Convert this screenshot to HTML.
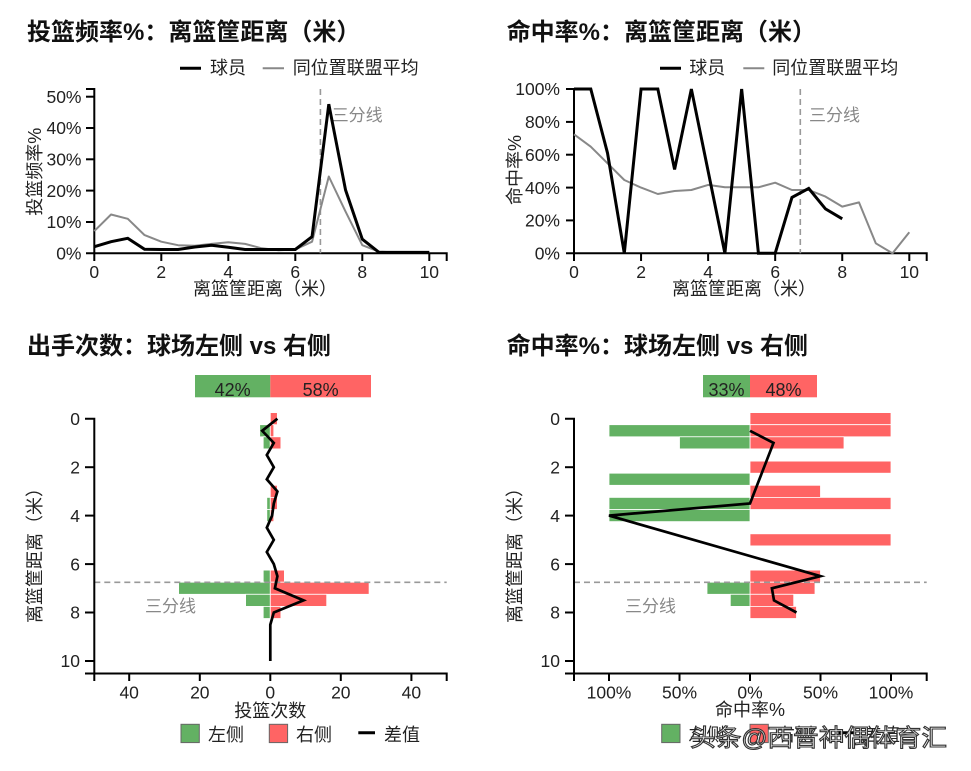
<!DOCTYPE html>
<html><head><meta charset="utf-8"><style>
html,body{margin:0;padding:0;background:#fff;}
svg{display:block;font-family:"Liberation Sans","Noto Sans CJK SC",sans-serif;}
.t{font-size:24px;font-weight:bold;fill:#111;}
.tk{font-size:17.5px;fill:#222;}
.lb{font-size:18px;fill:#222;}
.g3{font-size:17px;fill:#888;}
</style></head><body>
<svg width="971" height="771" viewBox="0 0 971 771" xmlns="http://www.w3.org/2000/svg">
<rect width="971" height="771" fill="#fff"/>

<!-- ============ TOP LEFT ============ -->
<text class="t" x="27" y="40">投篮频率%：离篮筐距离（米）</text>
<line x1="180" y1="68.3" x2="201" y2="68.3" stroke="#000" stroke-width="3"/>
<text class="lb" x="210" y="74">球员</text>
<line x1="262.7" y1="68.3" x2="284" y2="68.3" stroke="#888" stroke-width="2"/>
<text class="lb" x="292.7" y="74">同位置联盟平均</text>

<g stroke="#000" stroke-width="2" fill="none">
<path d="M86,89 H94.3 V253.3 H86"/>
<path d="M94.3,261 V253.3 H446.7 V261"/>
<line x1="86" y1="222" x2="94.3" y2="222"/>
<line x1="86" y1="190.6" x2="94.3" y2="190.6"/>
<line x1="86" y1="159.3" x2="94.3" y2="159.3"/>
<line x1="86" y1="128" x2="94.3" y2="128"/>
<line x1="86" y1="96.7" x2="94.3" y2="96.7"/>
<line x1="161.3" y1="253.3" x2="161.3" y2="261"/>
<line x1="228.3" y1="253.3" x2="228.3" y2="261"/>
<line x1="295.3" y1="253.3" x2="295.3" y2="261"/>
<line x1="362.3" y1="253.3" x2="362.3" y2="261"/>
<line x1="429.3" y1="253.3" x2="429.3" y2="261"/>
</g>
<g class="tk" text-anchor="end">
<text x="81.5" y="259.5">0%</text>
<text x="81.5" y="228.2">10%</text>
<text x="81.5" y="196.8">20%</text>
<text x="81.5" y="165.5">30%</text>
<text x="81.5" y="134.2">40%</text>
<text x="81.5" y="102.9">50%</text>
</g>
<g class="tk" text-anchor="middle">
<text x="94.3" y="278">0</text>
<text x="161.3" y="278">2</text>
<text x="228.3" y="278">4</text>
<text x="295.3" y="278">6</text>
<text x="362.3" y="278">8</text>
<text x="429.3" y="278">10</text>
</g>
<text class="lb" x="265" y="295" text-anchor="middle">离篮筐距离（米）</text>
<text class="lb" transform="translate(41,171.7) rotate(-90)" text-anchor="middle">投篮频率%</text>
<line x1="320.4" y1="89" x2="320.4" y2="253.3" stroke="#999" stroke-width="1.6" stroke-dasharray="6,4"/>
<text class="g3" x="331.7" y="121">三分线</text>
<polyline fill="none" stroke="#888" stroke-width="2" stroke-linejoin="round" points="94.3,231.1 111.05,214.5 127.8,218.8 144.55,235.1 161.3,241.7 178.05,245.2 194.8,245.8 211.55,243.9 228.3,242.3 245.05,243.9 261.8,248.3 278.55,250.2 295.3,249.5 312.05,241.7 328.8,176.5 345.55,211.6 362.3,245.2 379.05,251.7 395.8,252.4 412.55,252.4 429.3,252.4"/>
<polyline fill="none" stroke="#000" stroke-width="3" stroke-linejoin="miter" points="94.3,246.7 111.05,241.7 127.8,238.3 144.55,249.2 161.3,249.5 178.05,249.5 194.8,247 211.55,245.2 228.3,247.3 245.05,249.5 261.8,249.5 278.55,249.5 295.3,249.5 312.05,236.7 328.8,104.2 345.55,190 362.3,239.2 379.05,252.4 395.8,252.4 412.55,252.4 429.3,252.4"/>

<!-- ============ TOP RIGHT ============ -->
<text class="t" x="506.7" y="40">命中率%：离篮筐距离（米）</text>
<line x1="660" y1="68.3" x2="681" y2="68.3" stroke="#000" stroke-width="3"/>
<text class="lb" x="689.3" y="74">球员</text>
<line x1="743.3" y1="68.3" x2="764.3" y2="68.3" stroke="#888" stroke-width="2"/>
<text class="lb" x="772.3" y="74">同位置联盟平均</text>

<g stroke="#000" stroke-width="2" fill="none">
<path d="M566,89 H574 V253.3 H566"/>
<path d="M574,261 V253.3 H926.7 V261"/>
<line x1="566" y1="220.4" x2="574" y2="220.4"/>
<line x1="566" y1="187.6" x2="574" y2="187.6"/>
<line x1="566" y1="154.7" x2="574" y2="154.7"/>
<line x1="566" y1="121.9" x2="574" y2="121.9"/>
<line x1="641.06" y1="253.3" x2="641.06" y2="261"/>
<line x1="708.12" y1="253.3" x2="708.12" y2="261"/>
<line x1="775.18" y1="253.3" x2="775.18" y2="261"/>
<line x1="842.24" y1="253.3" x2="842.24" y2="261"/>
<line x1="909.3" y1="253.3" x2="909.3" y2="261"/>
</g>
<g class="tk" text-anchor="end">
<text x="560" y="259.5">0%</text>
<text x="560" y="226.6">20%</text>
<text x="560" y="193.8">40%</text>
<text x="560" y="160.9">60%</text>
<text x="560" y="128.1">80%</text>
<text x="560" y="95.2">100%</text>
</g>
<g class="tk" text-anchor="middle">
<text x="574" y="278">0</text>
<text x="641.06" y="278">2</text>
<text x="708.12" y="278">4</text>
<text x="775.18" y="278">6</text>
<text x="842.24" y="278">8</text>
<text x="909.3" y="278">10</text>
</g>
<text class="lb" x="744" y="295" text-anchor="middle">离篮筐距离（米）</text>
<text class="lb" transform="translate(521,170) rotate(-90)" text-anchor="middle">命中率%</text>
<line x1="800.3" y1="89" x2="800.3" y2="253.3" stroke="#999" stroke-width="1.6" stroke-dasharray="6,4"/>
<text class="g3" x="809" y="121">三分线</text>
<polyline fill="none" stroke="#888" stroke-width="2" stroke-linejoin="round" points="574,134.3 590.77,146.7 607.53,163.3 624.3,180 641.06,187.6 657.83,194 674.59,191 691.36,190 708.12,184.9 724.89,187.3 741.65,187.3 758.42,187.3 775.18,182.7 791.95,190 808.71,190 825.48,196.6 842.24,206.6 859,202.4 875.77,243.3 892.54,253.3 909.3,232.3"/>
<polyline fill="none" stroke="#000" stroke-width="3" stroke-linejoin="miter" stroke-miterlimit="3" points="574,89 590.77,89 607.53,153.1 624.3,253.3 641.06,89 657.83,89 674.59,169.5 691.36,89 724.89,253.3 741.65,89 758.42,253.3 775.18,253.3 791.95,197.4 808.71,188.4 825.48,208.9 842.24,218.8"/>

<!-- ============ BOTTOM LEFT ============ -->
<text class="t" x="27" y="354">出手次数：球场左侧 vs 右侧</text>
<rect x="195" y="375" width="75.3" height="22.3" fill="#63b163"/>
<rect x="270.3" y="375" width="100.7" height="22.3" fill="#ff6464"/>
<text class="tk" x="232.6" y="396" text-anchor="middle" style="font-size:18px;fill:#222">42%</text>
<text class="tk" x="320.6" y="396" text-anchor="middle" style="font-size:18px;fill:#222">58%</text>

<g stroke="#fff" stroke-width="0.8">
<rect x="270.3" y="412.6" width="7.05" height="12.11" fill="#ff6464"/>
<rect x="259.7" y="424.7" width="10.6" height="12.11" fill="#63b163"/>
<rect x="270.3" y="424.7" width="3.5" height="12.11" fill="#ff6464"/>
<rect x="263.2" y="436.8" width="7.05" height="12.11" fill="#63b163"/>
<rect x="270.3" y="436.8" width="10.6" height="12.11" fill="#ff6464"/>
<rect x="270.3" y="485.3" width="7.05" height="12.11" fill="#ff6464"/>
<rect x="266.8" y="497.4" width="3.5" height="12.11" fill="#63b163"/>
<rect x="270.3" y="497.4" width="7.05" height="12.11" fill="#ff6464"/>
<rect x="266.8" y="509.5" width="3.5" height="12.11" fill="#63b163"/>
<rect x="270.3" y="509.5" width="3.5" height="12.11" fill="#ff6464"/>
<rect x="263.2" y="570.1" width="7.05" height="12.11" fill="#63b163"/>
<rect x="270.3" y="570.1" width="14.1" height="12.11" fill="#ff6464"/>
<rect x="178.6" y="582.2" width="91.7" height="12.11" fill="#63b163"/>
<rect x="270.3" y="582.2" width="98.8" height="12.11" fill="#ff6464"/>
<rect x="245.6" y="594.3" width="24.7" height="12.11" fill="#63b163"/>
<rect x="270.3" y="594.3" width="56.4" height="12.11" fill="#ff6464"/>
<rect x="263.2" y="606.4" width="7.05" height="12.11" fill="#63b163"/>
<rect x="270.3" y="606.4" width="10.6" height="12.11" fill="#ff6464"/>
</g>
<line x1="94.3" y1="582.3" x2="446.7" y2="582.3" stroke="#999" stroke-width="1.6" stroke-dasharray="6,4"/>
<text class="g3" x="145" y="612">三分线</text>
<polyline fill="none" stroke="#000" stroke-width="2.7" points="277.4,418.7 262.2,430.8 273.8,442.9 266.8,455 273.8,467.2 266.8,479.3 277.4,491.4 273.8,503.5 272.1,515.6 266.8,527.7 273.8,539.9 266.8,552 273.8,564.1 277.4,576.2 274.9,588.3 303.5,600.4 273.8,612.5 270.3,624.7 270.3,636.8 270.3,648.9 270.3,661"/>

<g stroke="#000" stroke-width="2" fill="none">
<path d="M85,418.7 H94.3 V673.5 H85"/>
<path d="M94.3,681 V673.5 H446.7 V681"/>
<line x1="85" y1="467.2" x2="94.3" y2="467.2"/>
<line x1="85" y1="515.6" x2="94.3" y2="515.6"/>
<line x1="85" y1="564.1" x2="94.3" y2="564.1"/>
<line x1="85" y1="612.5" x2="94.3" y2="612.5"/>
<line x1="85" y1="661" x2="94.3" y2="661"/>
<line x1="129.2" y1="673.5" x2="129.2" y2="681"/>
<line x1="199.8" y1="673.5" x2="199.8" y2="681"/>
<line x1="270.3" y1="673.5" x2="270.3" y2="681"/>
<line x1="340.8" y1="673.5" x2="340.8" y2="681"/>
<line x1="411.4" y1="673.5" x2="411.4" y2="681"/>
</g>
<g class="tk" text-anchor="end">
<text x="80" y="425">0</text>
<text x="80" y="473.4">2</text>
<text x="80" y="521.8">4</text>
<text x="80" y="570.3">6</text>
<text x="80" y="618.7">8</text>
<text x="80" y="667.2">10</text>
</g>
<g class="tk" text-anchor="middle">
<text x="129.2" y="698.5">40</text>
<text x="199.8" y="698.5">20</text>
<text x="270.3" y="698.5">0</text>
<text x="340.8" y="698.5">20</text>
<text x="411.4" y="698.5">40</text>
</g>
<text class="lb" x="270.3" y="717" text-anchor="middle">投篮次数</text>
<text class="lb" transform="translate(41,551) rotate(-90)" text-anchor="middle">离篮筐距离（米）</text>

<rect x="181" y="724.3" width="18.3" height="18.3" fill="#63b163" stroke="#666" stroke-width="1"/>
<text class="lb" x="208" y="741">左侧</text>
<rect x="269.3" y="724.3" width="18.3" height="18.3" fill="#ff6464" stroke="#666" stroke-width="1"/>
<text class="lb" x="296" y="741">右侧</text>
<line x1="358.3" y1="732.7" x2="375" y2="732.7" stroke="#000" stroke-width="3"/>
<text class="lb" x="384" y="741">差值</text>

<!-- ============ BOTTOM RIGHT ============ -->
<text class="t" x="506.7" y="354">命中率%：球场左侧 vs 右侧</text>
<rect x="703" y="375" width="47" height="22.3" fill="#63b163"/>
<rect x="750" y="375" width="67" height="22.3" fill="#ff6464"/>
<text class="tk" x="726.5" y="396" text-anchor="middle" style="font-size:18px;fill:#222">33%</text>
<text class="tk" x="783.5" y="396" text-anchor="middle" style="font-size:18px;fill:#222">48%</text>

<g stroke="#fff" stroke-width="0.8">
<rect x="750" y="412.6" width="141" height="12.11" fill="#ff6464"/>
<rect x="750" y="424.7" width="141" height="12.11" fill="#ff6464"/>
<rect x="609" y="424.7" width="141" height="12.11" fill="#63b163"/>
<rect x="750" y="436.8" width="94" height="12.11" fill="#ff6464"/>
<rect x="679.5" y="436.8" width="70.5" height="12.11" fill="#63b163"/>
<rect x="750" y="461.1" width="141" height="12.11" fill="#ff6464"/>
<rect x="609" y="473.2" width="141" height="12.11" fill="#63b163"/>
<rect x="750" y="485.3" width="70.5" height="12.11" fill="#ff6464"/>
<rect x="750" y="497.4" width="141" height="12.11" fill="#ff6464"/>
<rect x="609" y="497.4" width="141" height="12.11" fill="#63b163"/>
<rect x="609" y="509.5" width="141" height="12.11" fill="#63b163"/>
<rect x="750" y="533.8" width="141" height="12.11" fill="#ff6464"/>
<rect x="750" y="570.1" width="70.5" height="12.11" fill="#ff6464"/>
<rect x="750" y="582.2" width="65" height="12.11" fill="#ff6464"/>
<rect x="707" y="582.2" width="43" height="12.11" fill="#63b163"/>
<rect x="750" y="594.3" width="43.7" height="12.11" fill="#ff6464"/>
<rect x="730.3" y="594.3" width="19.7" height="12.11" fill="#63b163"/>
<rect x="750" y="606.4" width="46.5" height="12.11" fill="#ff6464"/>
</g>
<line x1="574" y1="582.3" x2="926.7" y2="582.3" stroke="#999" stroke-width="1.6" stroke-dasharray="6,4"/>
<text class="g3" x="625" y="612">三分线</text>
<polyline fill="none" stroke="#000" stroke-width="2.7" stroke-miterlimit="4" points="750,430.8 773.5,442.9 750,503.5 609,515.6 820.5,576.2 771.9,588.3 774,600.4 796.5,612.5"/>

<g stroke="#000" stroke-width="2" fill="none">
<path d="M565,418.7 H574 V673.5 H565"/>
<path d="M574,681 V673.5 H926.7 V681"/>
<line x1="565" y1="467.2" x2="574" y2="467.2"/>
<line x1="565" y1="515.6" x2="574" y2="515.6"/>
<line x1="565" y1="564.1" x2="574" y2="564.1"/>
<line x1="565" y1="612.5" x2="574" y2="612.5"/>
<line x1="565" y1="661" x2="574" y2="661"/>
<line x1="609" y1="673.5" x2="609" y2="681"/>
<line x1="679.5" y1="673.5" x2="679.5" y2="681"/>
<line x1="750" y1="673.5" x2="750" y2="681"/>
<line x1="820.5" y1="673.5" x2="820.5" y2="681"/>
<line x1="891" y1="673.5" x2="891" y2="681"/>
</g>
<g class="tk" text-anchor="end">
<text x="560" y="425">0</text>
<text x="560" y="473.4">2</text>
<text x="560" y="521.8">4</text>
<text x="560" y="570.3">6</text>
<text x="560" y="618.7">8</text>
<text x="560" y="667.2">10</text>
</g>
<g class="tk" text-anchor="middle">
<text x="609" y="698.5">100%</text>
<text x="679.5" y="698.5">50%</text>
<text x="750" y="698.5">0%</text>
<text x="820.5" y="698.5">50%</text>
<text x="891" y="698.5">100%</text>
</g>
<text class="lb" x="750" y="716" text-anchor="middle">命中率%</text>
<text class="lb" transform="translate(521,551) rotate(-90)" text-anchor="middle">离篮筐距离（米）</text>

<rect x="661.7" y="724.3" width="18.3" height="18.3" fill="#63b163" stroke="#666" stroke-width="1"/>
<text class="lb" x="688.5" y="741">左侧</text>
<rect x="750" y="724.3" width="18.3" height="18.3" fill="#ff6464" stroke="#666" stroke-width="1"/>
<text class="lb" x="777" y="741">右侧</text>
<line x1="838.3" y1="732.7" x2="855" y2="732.7" stroke="#000" stroke-width="3"/>
<text class="lb" x="864" y="741">差值</text>

<!-- watermark -->
<text x="690" y="746" textLength="257" lengthAdjust="spacingAndGlyphs" style="font-size:24px;fill:#fff;stroke:#333;stroke-width:1.1">头条@西晋神偶体育汇</text>
</svg>
</body></html>
